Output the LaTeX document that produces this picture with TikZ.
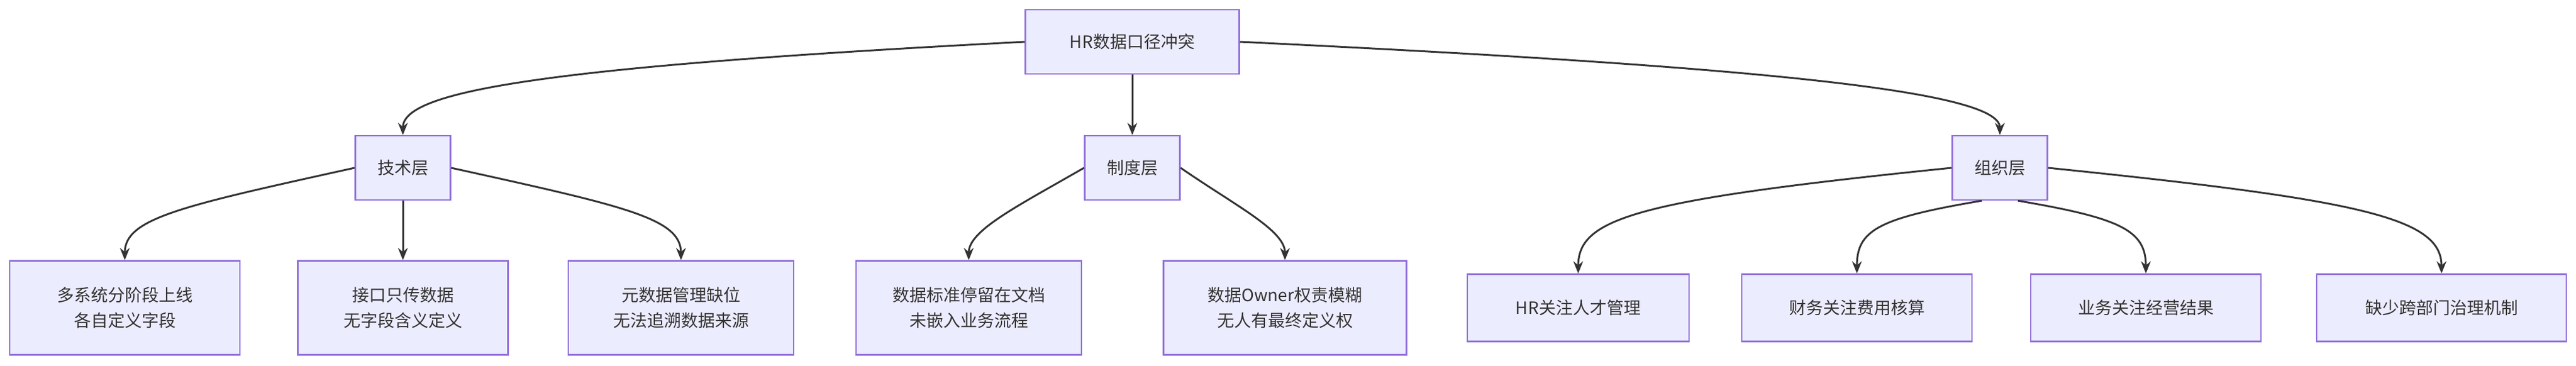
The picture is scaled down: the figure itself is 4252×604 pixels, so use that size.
\documentclass[tikz,border=0pt]{standalone}
\usepackage{fontspec}
\setmainfont{Noto Sans CJK SC}
\usetikzlibrary{arrows.meta}
\definecolor{nfill}{HTML}{ECECFF}
\definecolor{nline}{HTML}{9370DB}
\definecolor{eline}{HTML}{333333}
\begin{document}
\begin{tikzpicture}[x=1pt,y=-1pt,
  box/.style={draw=nline,fill=nfill,line width=2.5pt,rectangle,align=center,
    font=\fontsize{28}{42}\selectfont,text=eline,inner sep=0pt},
  edge/.style={draw=eline,line width=3pt,-{Stealth[length=20pt,width=16pt]}}]
\useasboundingbox (0,0) rectangle (4252,604);
\fill[white] (0,0) rectangle (4252,604);
\node[box,minimum width=353,minimum height=106] (root) at (1869,69) {HR数据口径冲突};
\node[box,minimum width=157,minimum height=106] (t) at (665,277) {技术层};
\node[box,minimum width=157,minimum height=106] (z) at (1869,277) {制度层};
\node[box,minimum width=157,minimum height=106] (o) at (3301,277) {组织层};
\node[box,minimum width=380,minimum height=155] (t1) at (206,508) {多系统分阶段上线\\各自定义字段};
\node[box,minimum width=347,minimum height=155] (t2) at (665,508) {接口只传数据\\无字段含义定义};
\node[box,minimum width=372,minimum height=155] (t3) at (1124,508) {元数据管理缺位\\无法追溯数据来源};
\node[box,minimum width=372,minimum height=155] (z1) at (1599,508) {数据标准停留在文档\\未嵌入业务流程};
\node[box,minimum width=401,minimum height=155] (z2) at (2121,508) {数据Owner权责模糊\\无人有最终定义权};
\node[box,minimum width=366,minimum height=111] (o1) at (2605,508) {HR关注人才管理};
\node[box,minimum width=380,minimum height=111] (o2) at (3065,508) {财务关注费用核算};
\node[box,minimum width=380,minimum height=111] (o3) at (3542,508) {业务关注经营结果};
\node[box,minimum width=412,minimum height=111] (o4) at (4030,508) {缺少跨部门治理机制};
\draw[edge] (root.west) .. controls (900,110) and (665,150) .. (t.north);
\draw[edge] (root.south) -- (z.north);
\draw[edge] (root.east) .. controls (2900,110) and (3301,150) .. (o.north);
\draw[edge] (t.west) .. controls (300,340) and (206,360) .. (t1.north);
\draw[edge] (t.south) -- (t2.north);
\draw[edge] (t.east) .. controls (1030,340) and (1124,360) .. (t3.north);
\draw[edge] (z.west) .. controls (1680,340) and (1599,380) .. (z1.north);
\draw[edge] (z.east) .. controls (2040,340) and (2121,380) .. (z2.north);
\draw[edge] (o.west) .. controls (2700,330) and (2605,360) .. (o1.north);
\draw[edge] ([xshift=-30]o.south) .. controls (3100,360) and (3065,380) .. (o2.north);
\draw[edge] ([xshift=30]o.south) .. controls (3500,360) and (3542,380) .. (o3.north);
\draw[edge] (o.east) .. controls (3900,330) and (4030,360) .. (o4.north);
\end{tikzpicture}
\end{document}
